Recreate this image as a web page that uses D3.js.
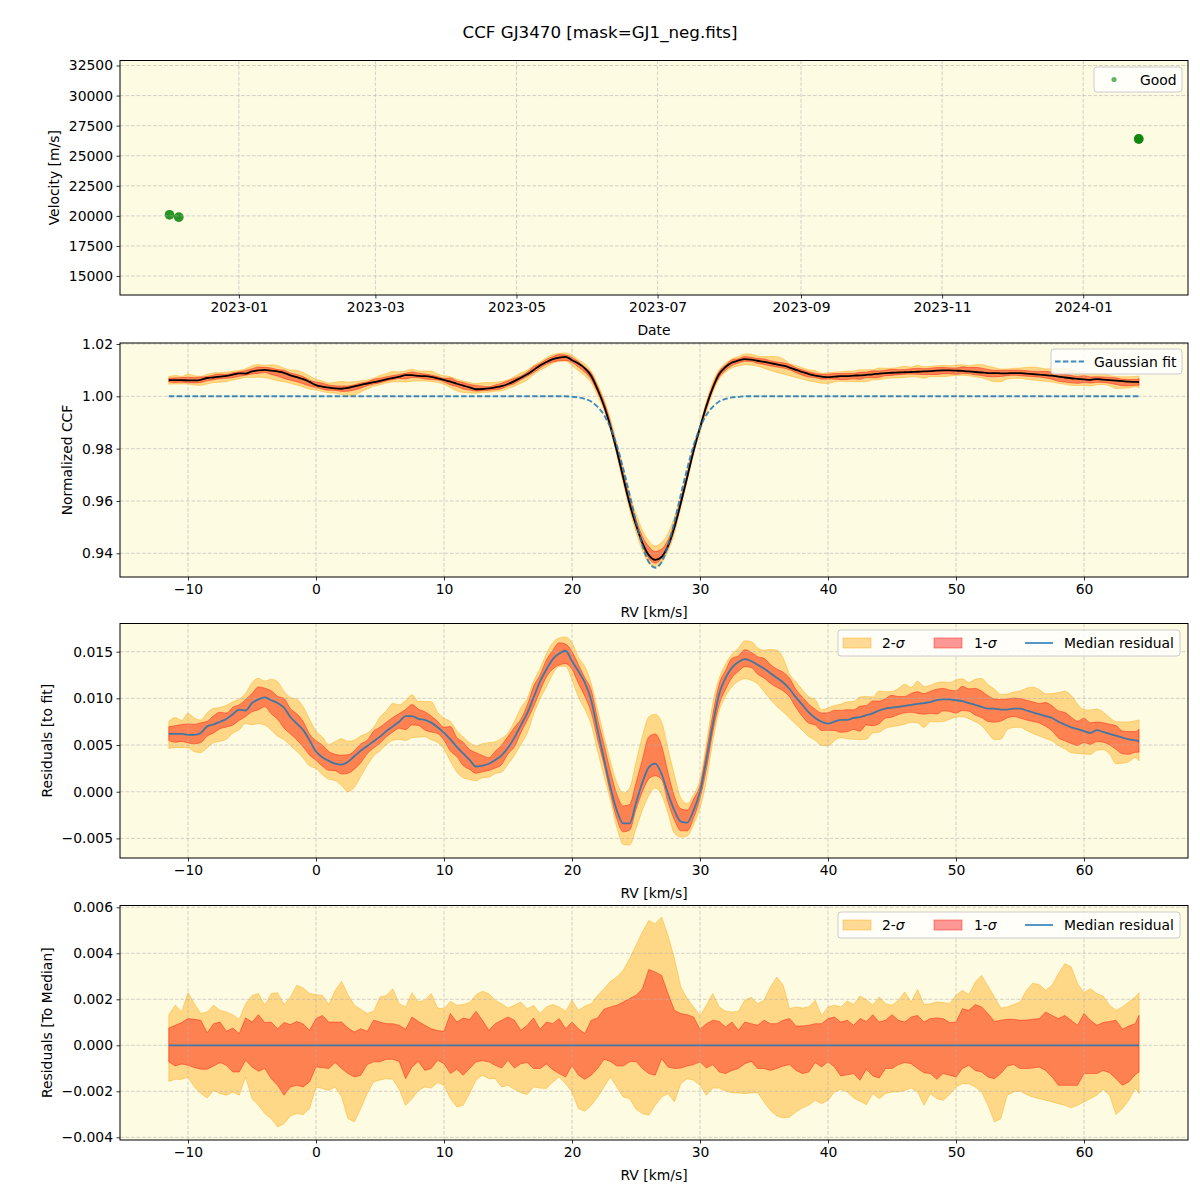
<!DOCTYPE html>
<html><head><meta charset="utf-8">
<script src="https://cdn.jsdelivr.net/npm/d3@7"></script>
<style>body{margin:0;background:#fff} svg text{font-family:"DejaVu Sans",sans-serif;fill:#000}</style>
</head><body><svg id="c" width="1200" height="1200"></svg>
<script>
// ---------------- DATA ----------------
// Panel 1: observations
const obsDates = ["2022-12-02","2022-12-02","2022-12-06","2022-12-06","2024-01-25","2024-01-25","2024-01-25"];
const obsVel   = [20100, 20080, 19890, 19900, 26400, 26380, 26400];
const velTicks = [15000,17500,20000,22500,25000,27500,30000,32500];

// RV grid (km/s): -11.5 .. 64.0 every 0.5, plus last sample 64.3
const rvStart = -11.5, rvStep = 0.5, rvCount = 152, rvLast = 64.3;
const rv = d3.range(rvCount).map(i => rvStart + rvStep * i).concat([rvLast]);

// Gaussian fit (normalized CCF)
const gaussFit = [
1,1,1,1,1,1,1,1,1,1,1,1,1,1,1,1,1,1,1,1,1,1,1,1,1,1,1,1,1,1,1,1,1,1,1,1,1,1,1,1,
1,1,1,1,1,1,1,1,1,1,1,1,1,1,1,1,1,1,1,1,1,1,1,
0.9998,0.9996,0.9990,0.9980,0.9960,0.9929,0.9880,0.9812,0.9724,0.9624,0.9520,0.9430,0.9367,0.9345,
0.9367,0.9430,0.9520,0.9624,0.9724,0.9812,0.9880,0.9929,0.9960,0.9980,0.9990,0.9996,0.9998,
1,1,1,1,1,1,1,1,1,1,1,1,1,1,1,1,1,1,1,1,1,1,1,1,1,1,1,1,1,1,1,1,1,1,1,1,1,1,1,1,
1,1,1,1,1,1,1,1,1,1,1,1,1,1,1,1,1,1,1,1,1,1,1];

// Median residual to the fit
const residMedian = [
0.0062,0.0062,0.0062,0.0061,0.0061,0.0063,0.0070,0.0072,0.0075,0.0078,0.0083,0.0088,0.0087,0.0095,0.0099,0.0101,0.0098,0.0095,0.0090,0.0080,0.0073,0.0066,0.0055,0.0043,0.0037,0.0033,0.0030,0.0029,0.0032,0.0038,0.0044,0.0049,0.0054,0.0059,0.0065,0.0070,0.0075,0.0081,0.0081,0.0078,0.0077,0.0074,0.0069,0.0063,0.0056,0.0048,0.0041,0.0034,0.0027,0.0028,0.0030,
0.0034,0.0039,0.0047,0.0058,0.0071,0.0084,0.0101,0.0118,0.0131,0.0142,0.0148,0.0151,0.0140,0.0129,0.0117,0.0098,0.0066,0.0035,0.0005,-0.0020,-0.0034,-0.0034,-0.0012,0.0010,0.0026,0.0030,0.0019,-0.0002,-0.0020,-0.0032,-0.0033,-0.0020,0.0000,0.0034,0.0072,0.0105,0.0122,0.0133,0.0139,0.0142,0.0140,0.0136,0.0132,0.0127,0.0122,0.0117,0.0110,0.0101,0.0093,0.0085,0.0079,
0.0075,0.0073,0.0075,0.0077,0.0077,0.0079,0.0080,0.0082,0.0084,0.0087,0.0089,0.0090,0.0091,0.0092,0.0093,0.0094,0.0095,0.0096,0.0098,0.0099,0.0099,0.0098,0.0097,0.0095,0.0093,0.0091,0.0089,0.0089,0.0088,0.0088,0.0089,0.0089,0.0087,0.0085,0.0083,0.0081,0.0079,0.0075,0.0072,0.0069,0.0067,0.0065,0.0063,0.0066,0.0064,0.0062,0.0060,0.0058,0.0056,0.0055,0.0054];

// Band offsets relative to the median, in units of 1e-3
const hi2e3 = [
1.33,1.74,1.45,2.29,1.81,1.38,1.45,1.74,1.52,1.45,1.33,1.13,1.81,2.17,2.25,1.74,2.25,2.29,1.77,2.10,2.61,2.49,2.25,2.20,2.17,1.77,2.39,2.78,2.20,1.74,1.57,1.38,1.48,2.10,2.17,2.46,1.81,1.67,2.29,1.88,1.96,2.25,1.62,1.59,1.91,1.74,1.77,1.86,2.20,2.35,2.25,
1.96,1.81,1.62,1.74,1.88,1.59,1.74,1.38,1.67,1.77,1.67,1.48,1.96,1.52,1.71,1.81,2.17,2.46,2.78,2.97,3.26,3.77,4.35,4.93,5.43,5.29,5.58,4.78,3.77,2.54,2.03,1.67,1.30,1.74,2.25,1.67,1.48,1.45,1.48,1.96,2.09,1.81,1.96,2.54,2.97,2.61,1.59,1.67,1.62,1.67,1.96,
1.30,1.67,1.74,1.67,1.93,1.77,2.14,1.99,1.74,2.10,1.81,1.74,1.96,2.32,1.88,2.43,1.77,1.81,1.88,1.86,1.81,2.17,2.39,2.20,2.75,3.04,2.58,2.10,1.62,1.67,1.77,1.88,2.39,2.70,2.64,2.39,2.61,3.12,3.55,3.41,2.68,2.29,2.46,2.25,2.14,1.74,1.52,1.67,1.88,2.10,2.29];
const hi1e3 = [
0.75,0.87,0.99,1.16,1.13,1.09,0.55,0.94,1.01,0.61,0.75,0.51,1.19,1.01,1.33,0.99,1.01,0.72,0.99,0.90,1.04,0.93,0.65,1.16,1.30,1.01,1.01,1.01,0.75,0.58,0.72,0.61,1.09,1.01,0.94,0.94,0.87,0.70,1.23,1.04,0.87,0.72,0.64,0.61,1.38,1.01,1.19,1.12,1.48,1.09,0.65,
0.94,1.09,1.23,1.09,0.65,0.87,1.19,0.70,1.01,0.94,1.16,0.72,1.01,0.72,0.51,1.09,1.19,1.57,1.67,1.74,1.88,2.03,2.17,2.46,3.30,3.19,3.04,2.25,1.52,1.38,1.33,1.23,0.70,0.94,1.09,1.04,0.80,1.01,0.65,1.01,0.94,0.87,1.09,0.94,0.94,1.09,1.16,0.84,0.84,0.87,0.94,
0.94,1.16,1.23,1.01,1.09,0.87,1.16,1.04,1.33,1.01,1.09,1.33,1.09,1.01,1.23,1.30,1.01,1.16,1.19,1.16,0.99,1.01,1.59,1.52,1.77,1.67,1.38,1.04,1.09,1.13,1.13,1.09,1.10,1.13,1.16,1.45,1.30,1.16,1.30,1.09,0.87,1.38,1.09,0.87,0.99,1.04,1.09,0.70,0.84,0.94,1.30];
const lo1e3 = [
-0.72,-0.90,-0.81,-0.87,-0.97,-1.04,-1.04,-0.90,-0.75,-0.87,-1.16,-1.16,-0.65,-0.94,-1.13,-1.01,-1.45,-1.74,-2.17,-1.81,-1.74,-1.81,-1.59,-0.94,-0.97,-1.01,-0.75,-1.01,-1.23,-1.38,-1.30,-0.84,-0.72,-0.72,-0.61,-0.61,-0.70,-1.45,-0.94,-0.70,-1.09,-1.01,-0.65,-0.80,-1.23,-1.04,-1.30,-1.01,-0.72,-0.67,-0.72,
-0.87,-0.99,-0.65,-0.99,-0.80,-0.75,-1.01,-1.01,-0.81,-1.06,-1.23,-1.38,-0.87,-1.30,-1.48,-1.30,-1.01,-0.61,-0.70,-0.90,-0.90,-0.72,-0.70,-1.01,-1.23,-1.30,-0.58,-0.94,-1.01,-0.99,-0.90,-0.84,-0.72,-0.99,-0.84,-1.16,-1.23,-1.09,-1.01,-0.80,-0.70,-1.01,-1.01,-1.09,-1.01,-0.90,-0.84,-1.09,-1.23,-1.16,-0.75,
-0.94,-0.72,-0.94,-1.33,-1.28,-1.23,-1.52,-1.04,-1.33,-1.42,-1.01,-1.01,-0.84,-0.75,-0.80,-1.01,-1.19,-1.23,-1.48,-1.23,-1.30,-1.38,-1.01,-0.87,-1.09,-1.16,-1.38,-1.45,-1.23,-0.90,-0.84,-1.01,-1.01,-0.99,-0.94,-1.09,-1.38,-1.74,-1.74,-1.74,-1.74,-1.23,-1.23,-1.23,-1.09,-1.19,-1.45,-1.74,-1.59,-1.28,-1.16];
const lo2e3 = [
-1.57,-1.48,-1.48,-1.39,-1.81,-2.10,-2.29,-1.96,-2.10,-2.17,-2.03,-2.17,-1.38,-2.32,-2.61,-2.97,-3.19,-3.55,-3.41,-3.07,-2.97,-3.01,-2.75,-1.81,-1.88,-1.96,-1.81,-2.25,-3.19,-3.33,-2.75,-2.10,-1.59,-1.51,-1.45,-1.48,-1.91,-2.61,-2.32,-1.96,-1.81,-1.86,-1.62,-1.74,-2.32,-2.68,-2.61,-2.10,-1.52,-1.30,-1.45,
-1.45,-1.81,-1.74,-1.91,-2.06,-2.14,-1.81,-1.86,-1.88,-1.59,-1.38,-1.67,-2.03,-2.75,-2.87,-2.61,-2.25,-1.81,-1.38,-1.81,-2.25,-2.32,-2.78,-2.97,-3.04,-2.61,-2.25,-2.10,-2.46,-1.67,-1.45,-1.52,-1.74,-2.17,-1.86,-1.86,-2.00,-2.06,-2.07,-2.10,-2.07,-2.06,-2.46,-2.83,-3.07,-3.16,-3.12,-2.90,-2.72,-2.61,-2.39,
-2.54,-2.39,-2.03,-1.91,-2.03,-2.29,-2.43,-2.58,-2.10,-2.32,-2.10,-2.03,-2.03,-1.96,-1.86,-2.03,-2.61,-2.10,-2.32,-2.39,-2.14,-1.81,-1.67,-1.67,-1.81,-2.03,-2.61,-3.33,-3.19,-2.17,-2.03,-1.99,-2.14,-2.25,-2.32,-2.39,-2.46,-2.54,-2.61,-2.72,-2.61,-2.46,-2.32,-2.17,-1.91,-2.17,-3.01,-2.75,-2.39,-1.86,-2.10];

const rvTicks = [-10,0,10,20,30,40,50,60];
const ccfTicks = [0.94,0.96,0.98,1.00,1.02];
const resTicks = [-0.005,0,0.005,0.010,0.015];
const medTicks = [-0.004,-0.002,0,0.002,0.004,0.006];

// ---------------- DRAW ----------------
const svg = d3.select("#c");
const L = 120, R = 1188, BG = "#fdfbe2", FS = 13.9;
const ORANGE = "#FFA500", RED = "#FF0000", BLUE = "#1f77b4";

svg.append("rect").attr("width",1200).attr("height",1200).attr("fill","#fff");
svg.append("text").attr("x",600).attr("y",38).attr("text-anchor","middle")
  .attr("font-size",16.7).text("CCF GJ3470 [mask=GJ1_neg.fits]");

function panel(o){
  const g = svg.append("g");
  g.append("rect").attr("x",L).attr("y",o.top).attr("width",R-L).attr("height",o.bottom-o.top).attr("fill",BG);
  const fills = g.append("g"), grid = g.append("g"), lines = g.append("g");
  const xt = o.xTicks, yt = o.yTicks;
  xt.forEach(t => grid.append("line").attr("x1",o.x(t)).attr("x2",o.x(t)).attr("y1",o.top).attr("y2",o.bottom));
  yt.forEach(t => grid.append("line").attr("y1",o.y(t)).attr("y2",o.y(t)).attr("x1",L).attr("x2",R));
  grid.selectAll("line").attr("stroke","#b0b0b0").attr("stroke-opacity",0.7).attr("stroke-width",0.8).attr("stroke-dasharray","3.7,1.8");
  const ax = g.append("g").attr("transform",`translate(0,${o.bottom})`)
    .call(d3.axisBottom(o.x).tickValues(xt).tickFormat(o.xFmt).tickSize(3.5).tickPadding(3.5));
  const ay = g.append("g").attr("transform",`translate(${L},0)`)
    .call(d3.axisLeft(o.y).tickValues(yt).tickFormat(o.yFmt).tickSize(3.5).tickPadding(3.5));
  [ax,ay].forEach(a => {
    a.select(".domain").remove();
    a.attr("font-size",FS).attr("font-family","DejaVu Sans");
    a.selectAll("line").attr("stroke","#000").attr("stroke-width",0.8);
    a.selectAll("text").attr("fill","#000");
  });
  g.append("rect").attr("x",L).attr("y",o.top).attr("width",R-L).attr("height",o.bottom-o.top)
    .attr("fill","none").attr("stroke","#000").attr("stroke-width",1);
  g.append("text").attr("x",(L+R)/2).attr("y",o.bottom+39.5).attr("text-anchor","middle").attr("font-size",FS).text(o.xLabel);
  g.append("text").attr("transform",`translate(${o.yLabelX},${(o.top+o.bottom)/2}) rotate(-90)`)
    .attr("text-anchor","middle").attr("font-size",FS).text(o.yLabel);
  return {g, fills, lines};
}

function legendBox(g, x, y, w, h){
  g.append("rect").attr("x",x).attr("y",y).attr("width",w).attr("height",h).attr("rx",3)
    .attr("fill","#fff").attr("fill-opacity",0.8).attr("stroke","#cccccc").attr("stroke-width",1);
}
function sigmaText(g, x, y, n){
  const t = g.append("text").attr("x",x).attr("y",y).attr("font-size",FS);
  t.append("tspan").text(n + "-");
  t.append("tspan").attr("font-style","italic").text("σ");
}
function bandLegend(g, y0){
  legendBox(g, 838, y0, 342, 26);
  const cy = y0 + 13;
  g.append("rect").attr("x",843).attr("y",cy-5).attr("width",28).attr("height",10)
    .attr("fill",ORANGE).attr("fill-opacity",0.4).attr("stroke",ORANGE).attr("stroke-opacity",0.4);
  sigmaText(g, 882, cy+5, 2);
  g.append("rect").attr("x",934).attr("y",cy-5).attr("width",28).attr("height",10)
    .attr("fill",RED).attr("fill-opacity",0.4).attr("stroke",RED).attr("stroke-opacity",0.4);
  sigmaText(g, 974, cy+5, 1);
  g.append("line").attr("x1",1025).attr("x2",1053).attr("y1",cy).attr("y2",cy).attr("stroke",BLUE).attr("stroke-opacity",0.85).attr("stroke-width",1.8);
  g.append("text").attr("x",1064).attr("y",cy+5).attr("font-size",FS).text("Median residual");
}

const xRV = d3.scaleLinear().domain([-15.3125, 68.125]).range([L, R]);
const fmtRV = d3.format("d");
const idx = d3.range(rv.length);

function drawBands(p, y, base, curve){
  const a2 = d3.area().curve(curve).x(i => xRV(rv[i])).y0(i => y(base[i] + lo2e3[i]*1e-3)).y1(i => y(base[i] + hi2e3[i]*1e-3));
  const a1 = d3.area().curve(curve).x(i => xRV(rv[i])).y0(i => y(base[i] + lo1e3[i]*1e-3)).y1(i => y(base[i] + hi1e3[i]*1e-3));
  p.fills.append("path").attr("d",a2(idx)).attr("fill",ORANGE).attr("fill-opacity",0.4).attr("stroke",ORANGE).attr("stroke-opacity",0.4).attr("stroke-width",1);
  p.fills.append("path").attr("d",a1(idx)).attr("fill",RED).attr("fill-opacity",0.4).attr("stroke",RED).attr("stroke-opacity",0.4).attr("stroke-width",1);
}

// ---- Panel 1 ----
const x1 = d3.scaleUtc().domain([new Date("2022-11-10T14:24:00Z"), new Date("2024-02-15T07:12:00Z")]).range([L, R]);
const y1 = d3.scaleLinear().domain([13424, 32915]).range([295, 60.5]);
const dateTicks = x1.ticks(d3.utcMonth.every(2));
const p1 = panel({top:60.5,bottom:295,x:x1,y:y1,xTicks:dateTicks,xFmt:d3.utcFormat("%Y-%m"),
  yTicks:velTicks,yFmt:d3.format("d"),xLabel:"Date",yLabel:"Velocity [m/s]",yLabelX:58.5});
p1.fills.selectAll("circle").data(obsDates.map((d,i)=>({d:new Date(d+"T00:00:00Z"),v:obsVel[i]}))).enter()
  .append("circle").attr("cx",d=>x1(d.d)).attr("cy",d=>y1(d.v)).attr("r",4.8)
  .attr("fill","green").attr("fill-opacity",0.6);
legendBox(p1.g, 1094, 67, 88, 25);
p1.g.append("circle").attr("cx",1114).attr("cy",79.5).attr("r",2.6).attr("fill","green").attr("fill-opacity",0.6);
p1.g.append("text").attr("x",1140).attr("y",84.5).attr("font-size",FS).text("Good");

// ---- Panel 2 ----
const y2 = d3.scaleLinear().domain([0.93094, 1.02038]).range([577, 343]);
const ccfMedian = idx.map(i => gaussFit[i] + residMedian[i]);
const p2 = panel({top:343,bottom:577,x:xRV,y:y2,xTicks:rvTicks,xFmt:fmtRV,yTicks:ccfTicks,yFmt:d3.format(".2f"),
  xLabel:"RV [km/s]",yLabel:"Normalized CCF",yLabelX:72});
drawBands(p2, y2, ccfMedian, d3.curveMonotoneX);
p2.lines.append("path").attr("d", d3.line().curve(d3.curveMonotoneX).x(i=>xRV(rv[i])).y(i=>y2(ccfMedian[i]))(idx))
  .attr("fill","none").attr("stroke","#000").attr("stroke-width",1.8);
p2.lines.append("path").attr("d", d3.line().curve(d3.curveMonotoneX).x(i=>xRV(rv[i])).y(i=>y2(gaussFit[i]))(idx))
  .attr("fill","none").attr("stroke",BLUE).attr("stroke-opacity",0.85).attr("stroke-width",1.9).attr("stroke-dasharray","5.5,2.4");
legendBox(p2.g, 1051, 349, 131, 25);
p2.g.append("line").attr("x1",1055).attr("x2",1084).attr("y1",361.5).attr("y2",361.5)
  .attr("stroke",BLUE).attr("stroke-opacity",0.85).attr("stroke-width",1.9).attr("stroke-dasharray","5.5,2.4");
p2.g.append("text").attr("x",1094).attr("y",366.5).attr("font-size",FS).text("Gaussian fit");

// ---- Panel 3 ----
const y3 = d3.scaleLinear().domain([-0.00710, 0.01802]).range([858, 623.5]);
const p3 = panel({top:623.5,bottom:858,x:xRV,y:y3,xTicks:rvTicks,xFmt:fmtRV,yTicks:resTicks,yFmt:d3.format(".3f"),
  xLabel:"RV [km/s]",yLabel:"Residuals [to fit]",yLabelX:52});
drawBands(p3, y3, residMedian, d3.curveMonotoneX);
p3.lines.append("path").attr("d", d3.line().curve(d3.curveMonotoneX).x(i=>xRV(rv[i])).y(i=>y3(residMedian[i]))(idx))
  .attr("fill","none").attr("stroke",BLUE).attr("stroke-opacity",0.85).attr("stroke-width",1.8);
bandLegend(p3.g, 630);

// ---- Panel 4 ----
const y4 = d3.scaleLinear().domain([-0.004117, 0.006078]).range([1140, 905.5]);
const zeros = idx.map(() => 0);
const p4 = panel({top:905.5,bottom:1140,x:xRV,y:y4,xTicks:rvTicks,xFmt:fmtRV,yTicks:medTicks,yFmt:d3.format(".3f"),
  xLabel:"RV [km/s]",yLabel:"Residuals [To Median]",yLabelX:52});
drawBands(p4, y4, zeros, d3.curveLinear);
p4.lines.append("path").attr("d", d3.line().x(i=>xRV(rv[i])).y(i=>y4(zeros[i]))(idx))
  .attr("fill","none").attr("stroke",BLUE).attr("stroke-opacity",0.85).attr("stroke-width",1.8);
bandLegend(p4.g, 912);
</script></body></html>
